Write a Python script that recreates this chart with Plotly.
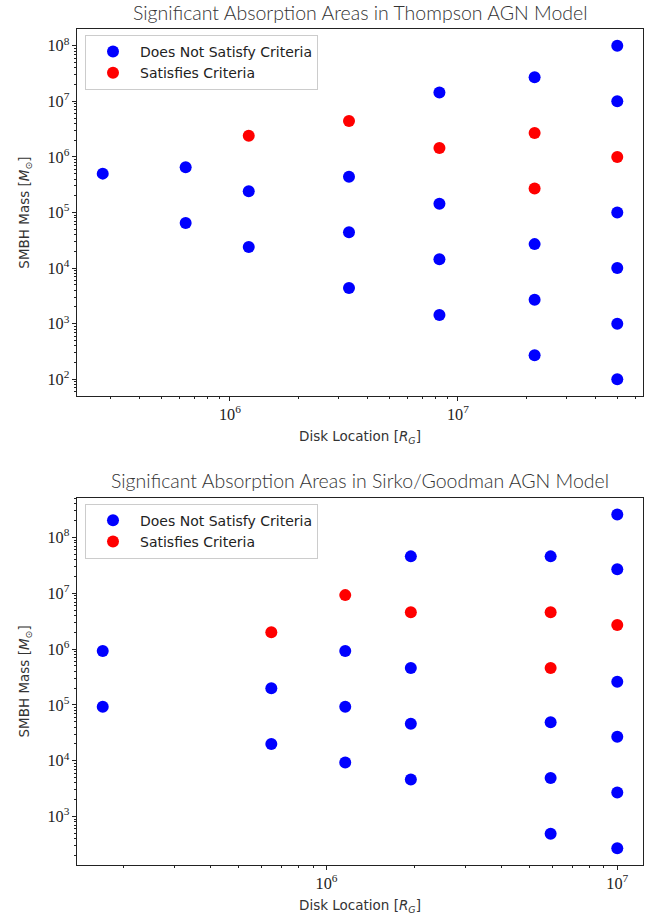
import numpy as np
import plotly.graph_objects as go

# ---------------- data ----------------
thompson_locations = [2.77e5, 6.4e5, 1.21e6, 3.33e6, 8.3e6, 2.17e7, 5.0e7]
thompson_masses = [
    [5e5],
    [6.5e5, 6.5e4],
    [2.4e6, 2.4e5, 2.4e4],
    [4.4e6, 4.4e5, 4.4e4, 4.4e3],
    [1.44e7, 1.44e6, 1.44e5, 1.44e4, 1.44e3],
    [2.7e7, 2.7e6, 2.7e5, 2.7e4, 2.7e3, 2.7e2],
    [1e8, 1e7, 1e6, 1e5, 1e4, 1e3, 1e2],
]
thompson_satisfies = [
    [0],
    [0, 0],
    [1, 0, 0],
    [1, 0, 0, 0],
    [0, 1, 0, 0, 0],
    [0, 1, 1, 0, 0, 0],
    [0, 0, 1, 0, 0, 0, 0],
]

sirko_locations = [1.7e5, 6.46e5, 1.16e6, 1.95e6, 5.9e6, 1.0e7]
sirko_masses = [
    [9.3e5, 9.3e4],
    [2e6, 2e5, 2e4],
    [9.3e6, 9.3e5, 9.3e4, 9.3e3],
    [4.6e7, 4.6e6, 4.6e5, 4.6e4, 4.6e3],
    [4.6e7, 4.6e6, 4.6e5, 4.9e4, 4.9e3, 4.9e2],
    [2.6e8, 2.7e7, 2.7e6, 2.6e5, 2.7e4, 2.7e3, 2.7e2],
]
sirko_satisfies = [
    [0, 0],
    [1, 0, 0],
    [1, 0, 0, 0],
    [0, 1, 0, 0, 0],
    [0, 1, 1, 0, 0, 0],
    [0, 0, 1, 0, 0, 0, 0],
]

titles = ["Significant Absorption Areas in Thompson AGN Model",
          "Significant Absorption Areas in Sirko/Goodman AGN Model"]
series_names = ["Does Not Satisfy Criteria", "Satisfies Criteria"]
series_colors = ["#0000ff", "#ff0000"]

# ---------------- figure ----------------
W, H = 661, 919
fig = go.Figure()

def split(locs, masses, flags):
    out = {0: ([], []), 1: ([], [])}
    for loc, ms, fs in zip(locs, masses, flags):
        for m, f in zip(ms, fs):
            out[f][0].append(loc)
            out[f][1].append(m)
    return out

def log_range(vals):
    lv = np.log10(vals)
    lo, hi = lv.min(), lv.max()
    pad = 0.05 * (hi - lo)
    return [lo - pad, hi + pad]

panels = [
    (thompson_locations, thompson_masses, thompson_satisfies, "x", "y", "legend",
     [77, 643], [29, 396]),
    (sirko_locations, sirko_masses, sirko_satisfies, "x2", "y2", "legend2",
     [77, 643], [497.7, 865]),
]

tickfont = dict(family="Liberation Serif, DejaVu Serif, serif", size=13, color="#222")
labelfont = dict(family="DejaVu Sans, Lato, sans-serif", size=13.5, color="#333")

layout_updates = {}
for i, (locs, masses, flags, xa, ya, lg, xpx, ypx) in enumerate(panels):
    groups = split(locs, masses, flags)
    for f in (0, 1):
        fig.add_trace(go.Scatter(
            x=groups[f][0], y=groups[f][1], mode="markers",
            name=series_names[f],
            marker=dict(color=series_colors[f], size=12, line=dict(width=0)),
            xaxis=xa, yaxis=ya, legend=lg, showlegend=True,
        ))
    allx = [l for l, ms in zip(locs, masses) for _ in ms]
    ally = [m for ms in masses for m in ms]
    xdom = [xpx[0] / W, xpx[1] / W]
    ydom = [1 - ypx[1] / H, 1 - ypx[0] / H]
    sfx = "" if i == 0 else str(i + 1)
    common = dict(
        type="log", showline=True, mirror=True, linecolor="#222", linewidth=1,
        ticks="outside", ticklen=4, tickcolor="#222", dtick=1,
        exponentformat="power", showgrid=False, zeroline=False,
        tickfont=tickfont,
        minor=dict(ticks="outside", ticklen=2, tickcolor="#222", dtick="D1", showgrid=False),
    )
    layout_updates["xaxis" + sfx] = dict(
        common, domain=xdom, range=log_range(allx),
        anchor="y" + sfx,
        title=dict(text="Disk Location [<i>R</i><sub><i>G</i></sub>]", font=labelfont, standoff=8),
    )
    layout_updates["yaxis" + sfx] = dict(
        common, domain=ydom, range=log_range(ally),
        anchor="x" + sfx,
        title=dict(text="SMBH Mass [<i>M</i><sub>⊙</sub>]", font=labelfont, standoff=14),
    )
    layout_updates[lg] = dict(
        x=(xpx[0] + 8) / W, y=1 - (ypx[0] + 6) / H, xanchor="left", yanchor="top",
        bgcolor="rgba(255,255,255,0.8)", bordercolor="#cccccc", borderwidth=1,
        font=dict(family="DejaVu Sans, Lato, sans-serif", size=14, color="#222"),
        tracegroupgap=0, itemsizing="trace", itemwidth=44,
    )

annotations = []
for i, (locs, masses, flags, xa, ya, lg, xpx, ypx) in enumerate(panels):
    annotations.append(dict(
        text=titles[i], xref="paper", yref="paper",
        x=(xpx[0] + xpx[1]) / 2 / W, y=1 - (ypx[0] - 17) / H,
        xanchor="center", yanchor="middle", showarrow=False,
        font=dict(family="Lato, DejaVu Sans, sans-serif", size=19.5, color="#333", weight=300),
    ))

fig.update_layout(
    width=W, height=H, margin=dict(l=0, r=0, t=0, b=0),
    paper_bgcolor="white", plot_bgcolor="white",
    annotations=annotations, **layout_updates,
)

fig.write_html("out.html")
